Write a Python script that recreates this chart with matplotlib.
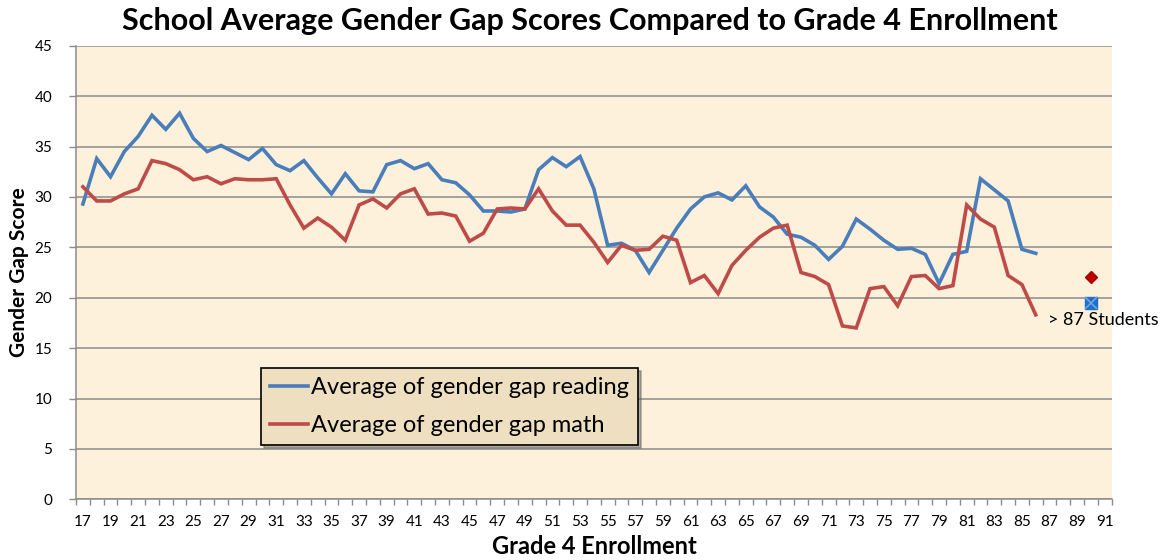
import matplotlib
matplotlib.use("Agg")
import matplotlib.pyplot as plt

plt.rcParams['font.family'] = ['Lato', 'DejaVu Sans']

# ---- data ----
enrollment = list(range(17, 87))
reading = [29.3, 33.8, 32.0, 34.5, 36.0, 38.1, 36.7, 38.3, 35.8, 34.5,
           35.1, 34.4, 33.7, 34.8, 33.2, 32.6, 33.6, 31.9, 30.3, 32.3,
           30.6, 30.5, 33.2, 33.6, 32.8, 33.3, 31.7, 31.4, 30.2, 28.6,
           28.6, 28.5, 28.8, 32.7, 33.9, 33.0, 34.0, 30.8, 25.2, 25.4,
           24.7, 22.5, 24.7, 26.9, 28.8, 30.0, 30.4, 29.7, 31.1, 29.0,
           28.0, 26.3, 26.0, 25.2, 23.8, 25.1, 27.8, 26.8, 25.7, 24.8,
           24.9, 24.3, 21.4, 24.3, 24.6, 31.8, 30.7, 29.6, 24.8, 24.4]
math = [31.0, 29.6, 29.6, 30.3, 30.8, 33.6, 33.3, 32.7, 31.7, 32.0,
        31.3, 31.8, 31.7, 31.7, 31.8, 29.2, 26.9, 27.9, 27.0, 25.7,
        29.2, 29.8, 28.9, 30.3, 30.8, 28.3, 28.4, 28.1, 25.6, 26.4,
        28.8, 28.9, 28.8, 30.8, 28.6, 27.2, 27.2, 25.5, 23.5, 25.2,
        24.7, 24.8, 26.1, 25.7, 21.5, 22.2, 20.4, 23.2, 24.7, 26.0,
        26.9, 27.2, 22.5, 22.1, 21.3, 17.2, 17.0, 20.9, 21.1, 19.2,
        22.1, 22.2, 20.9, 21.2, 29.2, 27.8, 27.0, 22.2, 21.3, 18.3]
large_x = 90
large_reading = 19.5
large_math = 22.1
large_label = "> 87 Students"
x_categories = list(range(17, 92))
x_tick_labels = [str(v) for v in x_categories[::2]]
y_ticks = [0, 5, 10, 15, 20, 25, 30, 35, 40, 45]

title = "School Average Gender Gap Scores Compared to Grade 4 Enrollment"
xlabel = "Grade 4 Enrollment"
ylabel = "Gender Gap Score"
legend_labels = ["Average of gender gap reading", "Average of gender gap math"]

blue = "#4A7EBB"
red = "#BE4B48"
grid_c = "#8C8C8C"

fig = plt.figure(figsize=(11.67, 5.6), dpi=100)
fig.patch.set_facecolor("white")
ax = fig.add_axes([76/1167, 1-499.3/560, (1111.7-76)/1167, (499.3-45.7)/560])
ax.set_facecolor("#FDF1DC")

ax.plot(enrollment, reading, color=blue, lw=2.6, solid_joinstyle='miter', zorder=3,
        label=legend_labels[0])
ax.plot(enrollment, math, color=red, lw=2.6, solid_joinstyle='miter', zorder=3,
        label=legend_labels[1])
ax.plot([large_x], [large_math], marker='D', ms=6.5, color="#C00000", mec="#A00000",
        ls='none', zorder=4)
ax.plot([large_x], [large_reading], marker='s', ms=9, color="#1F70C8", mec="#1F70C8",
        ls='none', zorder=4)
ax.plot([large_x], [large_reading], marker='x', ms=8, color="#6FA6E0", mew=1.2,
        ls='none', zorder=5)
ax.annotate(large_label, (large_x, large_reading), xytext=(-43, -17),
            textcoords='offset pixels', ha='left', va='center', fontsize=13,
            color="black", annotation_clip=False, zorder=6)

ax.set_xlim(x_categories[0]-0.5, x_categories[-1]+0.5)
ax.set_ylim(0, 45)
ax.set_yticks(y_ticks)
ax.set_xticks(x_categories[::2])
ax.set_xticklabels(x_tick_labels)
ax.set_xticks([v-0.5 for v in x_categories] + [x_categories[-1]+0.5], minor=True)
ax.tick_params(axis='x', which='major', length=0, pad=11, labelsize=11, colors='black')
ax.tick_params(axis='x', which='minor', length=4, color=grid_c, width=1)
ax.tick_params(axis='y', which='major', length=5, color=grid_c, width=1, pad=12,
               labelsize=11)
ax.grid(axis='y', color=grid_c, lw=1.1, zorder=1)
ax.set_axisbelow(True)
for s in ['top', 'right']:
    ax.spines[s].set_visible(False)
for s in ['left', 'bottom']:
    ax.spines[s].set_color(grid_c)
    ax.spines[s].set_linewidth(1.1)

fig.text(590/1167, 1-21/560, title, ha='center', va='center', fontsize=22,
         fontweight='bold')
fig.text(594/1167, 1-547/560, xlabel, ha='center', va='center', fontsize=17,
         fontweight='bold')
fig.text(19/1167, 1-272/560, ylabel, ha='center', va='center', fontsize=15,
         fontweight='bold', rotation=90)

leg = ax.legend(loc='upper left', bbox_to_anchor=((261-76)/1035.7, (499.3-368)/453.6),
                frameon=True, fontsize=17, handlelength=1.6, handletextpad=0.15,
                borderpad=0.38, labelspacing=0.72, fancybox=False,
                shadow={'color': '0.4', 'alpha': 0.5}, borderaxespad=0)
frame = leg.get_frame()
frame.set_facecolor("#EEDFC0")
frame.set_edgecolor("black")
frame.set_linewidth(1.2)
frame.set_alpha(1)

fig.savefig("out.png", dpi=100)
